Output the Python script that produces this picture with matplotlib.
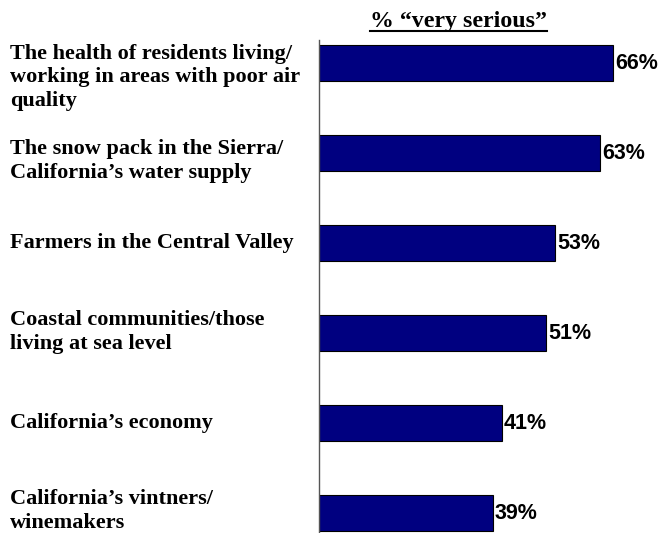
import matplotlib
matplotlib.use("Agg")
import matplotlib.pyplot as plt
from matplotlib.lines import Line2D
import matplotlib.transforms as mtransforms

categories = [
    "The health of residents living/\nworking in areas with poor air\nquality",
    "The snow pack in the Sierra/\nCalifornia\u2019s water supply",
    "Farmers in the Central Valley",
    "Coastal communities/those\nliving at sea level",
    "California\u2019s economy",
    "California\u2019s vintners/\nwinemakers",
]
values = [66, 63, 53, 51, 41, 39]
value_labels = ["66%", "63%", "53%", "51%", "41%", "39%"]
title = "% \u201cvery serious\u201d"
label_offsets = [0.16, 0.09, 0.0, -0.01, 0.0, -0.02]

W, H = 660, 533
fig = plt.figure(figsize=(W / 100, H / 100), dpi=100)
ax_left, ax_top = 319, 40
ax = fig.add_axes([ax_left / W, 0, (W - ax_left) / W, (H - ax_top) / H])

pos = list(range(len(values)))
ax.barh(pos, values, height=0.4, color="#000080", edgecolor="#000000", linewidth=0.8)
ax.set_xlim(0, (W - ax_left) / 4.455)
ax.set_ylim(5.222, -0.256)
for s in ["top", "right", "bottom"]:
    ax.spines[s].set_visible(False)
ax.spines["left"].set_color("#555555")
ax.spines["left"].set_linewidth(1.0)
ax.set_xticks([])
ax.set_yticks([])

for p, v, lab in zip(pos, values, value_labels):
    ax.text(v + 0.5, p, lab, ha="left", va="center", fontsize=15.5,
            fontweight="bold", family="Liberation Sans", color="#000000")

trans = mtransforms.blended_transform_factory(fig.transFigure, ax.transData)
for p, cat, off in zip(pos, categories, label_offsets):
    ax.text(10 / W, p + off, cat, transform=trans, ha="left", va="center",
            fontsize=16, fontweight="bold", family="Liberation Serif",
            linespacing=1.25, color="#000000", clip_on=False)

t = fig.text(458 / W, 1 - 27 / H, title, ha="center", va="baseline", fontsize=17.2,
             fontweight="bold", family="Liberation Serif", color="#000000")
fig.canvas.draw()
bb = t.get_window_extent()
y_ul = H - 30.5
fig.add_artist(Line2D([bb.x0 / W, bb.x1 / W], [y_ul / H, y_ul / H],
                      transform=fig.transFigure, color="#000000", linewidth=1.5))

fig.savefig("out.png", dpi=100)
